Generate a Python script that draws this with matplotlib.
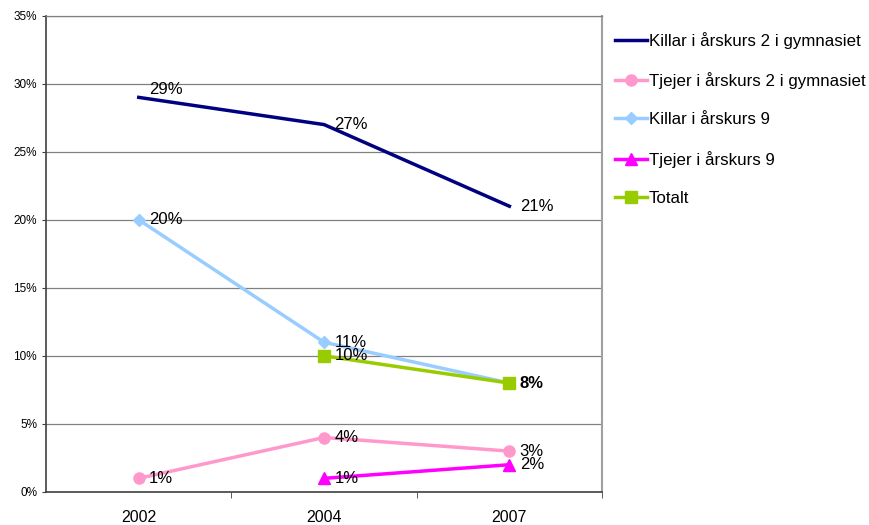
import matplotlib.pyplot as plt
import numpy as np

years = ['2002', '2004', '2007']
killar_gy = [29, 27, 21]
tjejer_gy = [1, 4, 3]
killar_9 = [20, 11, 8]
tjejer_9 = [np.nan, 1, 2]
totalt = [np.nan, 10, 8]

series = [
    ('Killar i årskurs 2 i gymnasiet', killar_gy, '#000080', None, 0),
    ('Tjejer i årskurs 2 i gymnasiet', tjejer_gy, '#FF99CC', 'o', 8),
    ('Killar i årskurs 9', killar_9, '#99CCFF', 'D', 6),
    ('Tjejer i årskurs 9', tjejer_9, '#FF00FF', '^', 8.5),
    ('Totalt', totalt, '#99CC00', 's', 8.5),
]

plt.rcParams['font.family'] = ['Liberation Sans', 'DejaVu Sans']

fig = plt.figure(figsize=(8.7, 5.25), dpi=100)
ax = fig.add_axes([0.053, 0.063, 0.639, 0.907])

x = np.arange(len(years))
for name, vals, col, mk, ms in series:
    ax.plot(x, vals, color=col, lw=2.5, marker=mk, markersize=ms,
            label=name, zorder=3)
    for xi, v in zip(x, vals):
        if np.isnan(v):
            continue
        # the two 8% labels sit on top of each other, keep only the Totalt one
        if name == 'Killar i årskurs 9' and v == totalt[xi]:
            continue
        bold = name == 'Totalt' and xi == 2
        dy = 6 if (name == series[0][0] and xi == 0) else 0
        ax.annotate('%d%%' % v, (xi, v), xytext=(7.5, dy), textcoords='offset points',
                    fontsize=12, va='center', ha='left', zorder=4,
                    fontweight='bold' if bold else 'normal')

ax.set_xlim(-0.5, 2.5)
ax.set_ylim(0, 35)
ax.set_yticks(np.arange(0, 36, 5))
ax.set_yticklabels(['%d%%' % t for t in range(0, 36, 5)], fontsize=8.5)
ax.set_xticks(x)
ax.set_xticklabels(years, fontsize=11.5)
ax.set_xticks([0.5, 1.5, 2.5], minor=True)
ax.tick_params(axis='x', which='major', length=0, pad=13)
ax.tick_params(axis='x', which='minor', length=4, direction='out', color='#404040')
ax.tick_params(axis='y', length=3, direction='out', color='#404040')
ax.grid(axis='y', color='#808080', lw=0.9, zorder=0)
ax.set_axisbelow(True)
for side in ['left', 'bottom']:
    ax.spines[side].set_color('#404040')
    ax.spines[side].set_linewidth(1.2)
ax.spines['right'].set_color('#a0a0a0')
ax.spines['right'].set_linewidth(1.5)
ax.spines['top'].set_color('#808080')
ax.spines['top'].set_linewidth(0.9)

ax.legend(loc='upper left', bbox_to_anchor=(1.011, 0.98), frameon=False, fontsize=12.2,
          handlelength=1.9, handletextpad=0.1, labelspacing=1.37, borderaxespad=0)

fig.savefig('out.png', dpi=100)
